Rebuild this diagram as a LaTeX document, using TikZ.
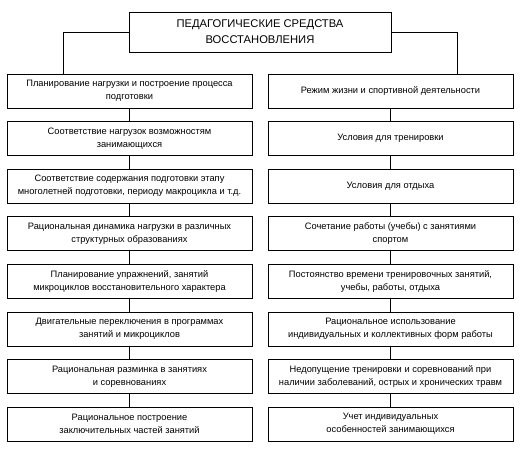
\documentclass[tikz,border=0pt]{standalone}
\usepackage{fontspec}
\setmainfont{Liberation Sans}
\begin{document}
\begin{tikzpicture}[x=1pt,y=-1pt,
  box/.style={draw, line width=0.8pt, minimum width=245pt, minimum height=34pt, align=center, inner sep=1pt, font=\fontsize{9.3}{13}\selectfont},
  titlebox/.style={draw, line width=0.8pt, minimum width=262pt, minimum height=40pt, align=center, inner sep=1pt, font=\fontsize{11.2}{16}\selectfont},
  conn/.style={line width=0.8pt}]
\useasboundingbox (0,0) rectangle (522,448);
\node[titlebox] (t) at (260,32) {ПЕДАГОГИЧЕСКИЕ СРЕДСТВА\\ВОССТАНОВЛЕНИЯ};
% left column
\node[box] (l1) at (129.5,91.0)  {Планирование нагрузки и построение процесса\\подготовки};
\node[box] (l2) at (129.5,138.6) {Соответствие нагрузок возможностям\\занимающихся};
\node[box] (l3) at (129.5,186.1) {Соответствие содержания подготовки этапу\\многолетней подготовки, периоду макроцикла и т.д.};
\node[box] (l4) at (129.5,233.7) {Рациональная динамика нагрузки в различных\\структурных образованиях};
\node[box] (l5) at (129.5,281.3) {Планирование упражнений, занятий\\микроциклов восстановительного характера};
\node[box] (l6) at (129.5,328.9) {Двигательные переключения в программах\\занятий и микроциклов};
\node[box] (l7) at (129.5,376.4) {Рациональная разминка в занятиях\\и соревнованиях};
\node[box] (l8) at (129.5,424.0) {Рациональное построение\\заключительных частей занятий};
% right column
\node[box] (r1) at (390.5,91.0)  {Режим жизни и спортивной деятельности};
\node[box] (r2) at (390.5,138.6) {Условия для тренировки};
\node[box] (r3) at (390.5,186.1) {Условия для отдыха};
\node[box] (r4) at (390.5,233.7) {Сочетание работы (учебы) с занятиями\\спортом};
\node[box] (r5) at (390.5,281.3) {Постоянство времени тренировочных занятий,\\учебы, работы, отдыха};
\node[box] (r6) at (390.5,328.9) {Рациональное использование\\индивидуальных и коллективных форм работы};
\node[box] (r7) at (390.5,376.4) {Недопущение тренировки и соревнований при\\наличии заболеваний, острых и хронических травм};
\node[box] (r8) at (390.5,424.0) {Учет индивидуальных\\особенностей занимающихся};
% connectors
\draw[conn] (t.west) -| ([xshift=-66.5pt]l1.north);
\draw[conn] (t.east) -| ([xshift=66.5pt]r1.north);
\foreach \a/\b in {l1/l2,l2/l3,l3/l4,l4/l5,l5/l6,l6/l7,l7/l8,r1/r2,r2/r3,r3/r4,r4/r5,r5/r6,r6/r7,r7/r8}
  \draw[conn] (\a.south) -- (\b.north);
\end{tikzpicture}
\end{document}
